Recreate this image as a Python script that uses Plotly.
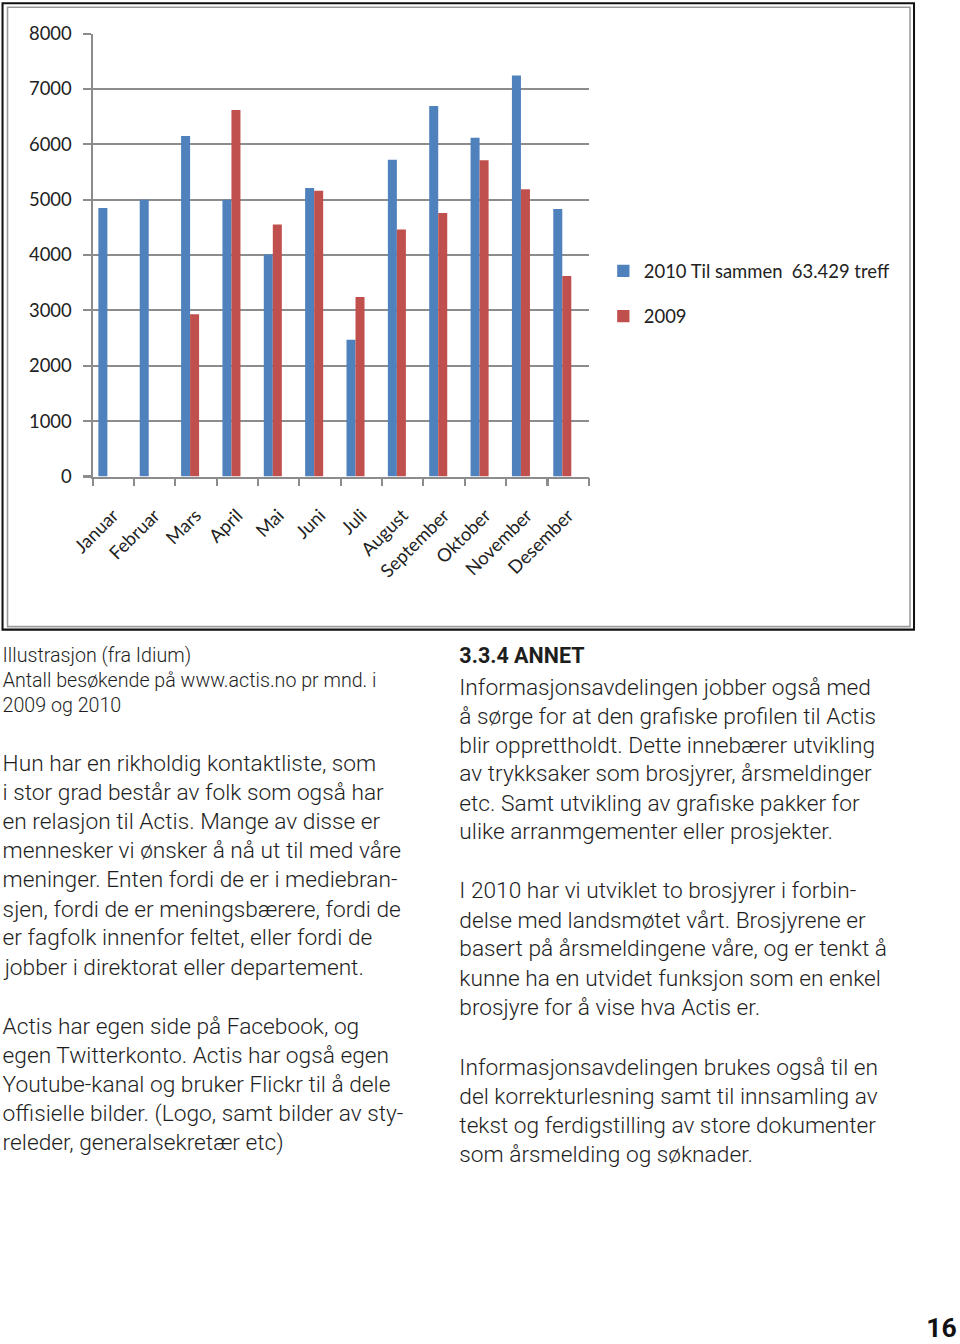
import plotly.graph_objects as go

W, H = 960, 1344

months = ["Januar", "Februar", "Mars", "April", "Mai", "Juni", "Juli",
          "August", "September", "Oktober", "November", "Desember"]
visits_2010 = [4850, 5000, 6150, 5000, 4010, 5210, 2470, 5720, 6690, 6120, 7240, 4830]
visits_2009 = [None, None, 2930, 6620, 4550, 5160, 3240, 4460, 4760, 5710, 5190, 3620]
y_ticks = [0, 1000, 2000, 3000, 4000, 5000, 6000, 7000, 8000]
name_2010 = "2010 Til sammen  63.429 treff"
name_2009 = "2009"

caption_lines = ["Illustrasjon (fra Idium)",
                 "Antall besøkende på www.actis.no pr mnd. i",
                 "2009 og 2010"]
left_par1 = ["Hun har en rikholdig kontaktliste, som",
             "i stor grad består av folk som også har",
             "en relasjon til Actis. Mange av disse er",
             "mennesker vi ønsker å nå ut til med våre",
             "meninger. Enten fordi de er i mediebran-",
             "sjen, fordi de er meningsbærere, fordi de",
             "er fagfolk innenfor feltet, eller fordi de",
             "jobber i direktorat eller departement."]
left_par2 = ["Actis har egen side på Facebook, og",
             "egen Twitterkonto. Actis har også egen",
             "Youtube-kanal og bruker Flickr til å dele",
             "offisielle bilder. (Logo, samt bilder av sty-",
             "releder, generalsekretær etc)"]
heading = "3.3.4 ANNET"
right_par1 = ["Informasjonsavdelingen jobber også med",
              "å sørge for at den grafiske profilen til Actis",
              "blir opprettholdt. Dette innebærer utvikling",
              "av trykksaker som brosjyrer, årsmeldinger",
              "etc. Samt utvikling av grafiske pakker for",
              "ulike arranmgementer eller prosjekter."]
right_par2 = ["I 2010 har vi utviklet to brosjyrer i forbin-",
              "delse med landsmøtet vårt. Brosjyrene er",
              "basert på årsmeldingene våre, og er tenkt å",
              "kunne ha en utvidet funksjon som en enkel",
              "brosjyre for å vise hva Actis er."]
right_par3 = ["Informasjonsavdelingen brukes også til en",
              "del korrekturlesning samt til innsamling av",
              "tekst og ferdigstilling av store dokumenter",
              "som årsmelding og søknader."]
page_number = "16"

CHART_FONT = "Lato, 'Open Sans', sans-serif"
BODY_FONT = "Roboto, 'Noto Sans', sans-serif"
TXT = "#1e1e1e"


def px(x):
    return x / W


def py(y):
    return 1 - y / H


fig = go.Figure()
fig.add_trace(go.Bar(x=months, y=visits_2010, name=name_2010,
                     marker=dict(color="#4F81BD", line=dict(width=0)),
                     width=0.218, offset=-0.36, legendgroup="a"))
fig.add_trace(go.Bar(x=months, y=visits_2009, name=name_2009,
                     marker=dict(color="#C0504D", line=dict(width=0)),
                     width=0.218, offset=-0.142, legendgroup="b"))

annotations = []


def add_lines(lines, x, y0, step, size, bold=False, weight=300):
    for i, t in enumerate(lines):
        annotations.append(dict(
            text=t, x=px(x), y=py(y0 + i * step),
            xref="paper", yref="paper", xanchor="left", yanchor="middle",
            showarrow=False,
            font=dict(family=BODY_FONT, size=size, color=TXT,
                      weight=700 if bold else weight)))


add_lines(caption_lines, 0, 655, 25, 19.2)
add_lines(left_par1, 0, 762, 29.1, 22.2)
add_lines(left_par2, 0, 1025, 29.1, 22.2)
add_lines([heading], 456, 656, 29, 21, bold=True)
add_lines(right_par1, 456, 686, 29, 22.2)
add_lines(right_par2, 456, 890, 29, 22.2)
add_lines(right_par3, 456, 1066, 29, 22.2)
annotations.append(dict(text=page_number, x=px(958), y=0,
                        xref="paper", yref="paper", xanchor="right", yanchor="bottom",
                        showarrow=False,
                        font=dict(family=BODY_FONT, size=26, color="#111", weight=700)))

shapes = [
    dict(type="rect", xref="paper", yref="paper", x0=px(2), x1=px(913),
         y0=py(3), y1=py(629), line=dict(color="#111", width=2)),
    dict(type="rect", xref="paper", yref="paper", x0=px(7), x1=px(909),
         y0=py(7), y1=py(626), line=dict(color="#9a9a9a", width=1.5)),
]

fig.update_layout(
    width=W, height=H, margin=dict(l=0, r=0, t=0, b=0),
    paper_bgcolor="white", plot_bgcolor="white",
    barmode="group",
    annotations=annotations, shapes=shapes,
    legend=dict(x=px(602), y=py(252), xanchor="left", yanchor="top",
                font=dict(family=CHART_FONT, size=18, color="#222"),
                tracegroupgap=18, bgcolor="rgba(0,0,0,0)"),
    xaxis=dict(domain=[px(92), px(588)], range=[-0.5, 11.5],
               showgrid=False, showline=True, linecolor="#8c8c8c", linewidth=1.5,
               ticks="outside", tickson="boundaries", ticklen=8,
               tickcolor="#8c8c8c", tickwidth=1.5, tickangle=-45,
               ticklabelstandoff=19,
               tickfont=dict(family=CHART_FONT, size=18, color="#222")),
    yaxis=dict(domain=[py(476), py(33.3)], range=[0, 8000],
               tickvals=y_ticks, showgrid=True, gridcolor="#8c8c8c", gridwidth=1.5,
               showline=True, linecolor="#8c8c8c", linewidth=1.5,
               ticks="outside", ticklen=8, tickcolor="#8c8c8c", tickwidth=1.5,
               ticklabelstandoff=7, zeroline=False,
               tickfont=dict(family=CHART_FONT, size=18, color="#222")),
)

post = ("document.body.style.margin='0';"
        "var d=document.getElementById('{plot_id}');"
        "d.style.position='absolute';d.style.left='-22.4px';d.style.top='-12.4px';"
        "d.style.transformOrigin='0 0';d.style.transform='scale(1.0240,1.0173)';")

fig.write_html("out.html", config={"displayModeBar": False}, post_script=post)
